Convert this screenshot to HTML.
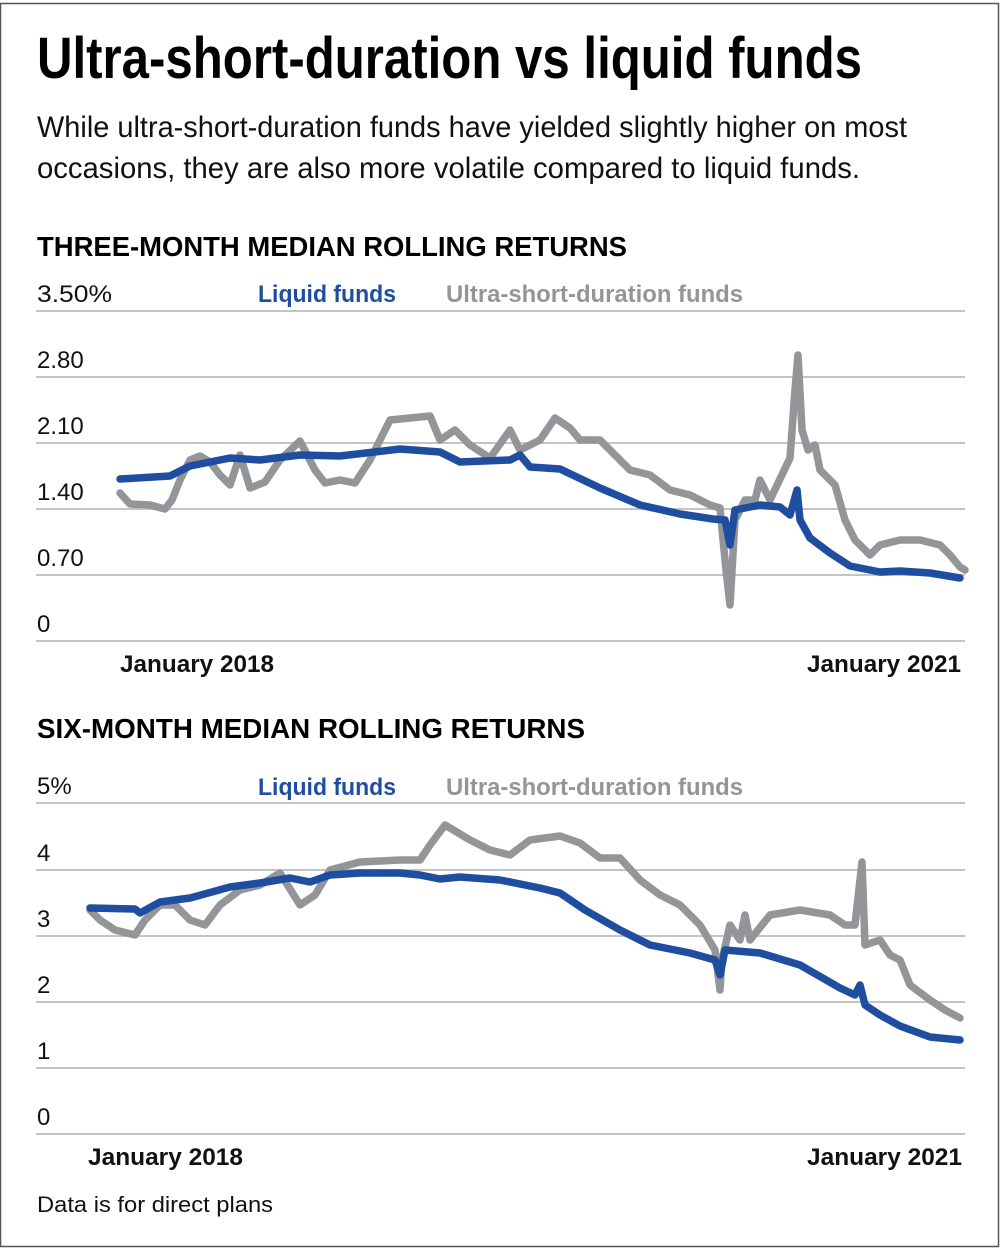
<!DOCTYPE html>
<html><head><meta charset="utf-8"><style>
html,body{margin:0;padding:0;background:#fff;}
svg{display:block;}
text{font-family:"Liberation Sans",Arial,sans-serif;}
</style></head><body>
<svg width="1000" height="1250" viewBox="0 0 1000 1250" xmlns="http://www.w3.org/2000/svg">
<rect x="0.5" y="3.5" width="998" height="1243" fill="#fff" stroke="#555" stroke-width="1.5"/>
<text x="37" y="78" font-size="58" font-weight="bold" textLength="825" lengthAdjust="spacingAndGlyphs">Ultra-short-duration vs liquid funds</text>
<text x="37" y="137" font-size="30" textLength="870" lengthAdjust="spacingAndGlyphs" fill="#111">While ultra-short-duration funds have yielded slightly higher on most</text>
<text x="37" y="178" font-size="30" textLength="823" lengthAdjust="spacingAndGlyphs" fill="#111">occasions,  they are also more volatile compared to liquid funds.</text>
<text x="37" y="256" font-size="28" font-weight="bold" textLength="590" lengthAdjust="spacingAndGlyphs">THREE-MONTH MEDIAN ROLLING RETURNS</text>
<g stroke="#c4c4c4" stroke-width="2">
<line x1="36" y1="311" x2="965" y2="311"/><line x1="36" y1="377" x2="965" y2="377"/><line x1="36" y1="443" x2="965" y2="443"/><line x1="36" y1="509" x2="965" y2="509"/><line x1="36" y1="575" x2="965" y2="575"/><line x1="36" y1="641" x2="965" y2="641"/>
<line x1="36" y1="803" x2="965" y2="803"/><line x1="36" y1="870" x2="965" y2="870"/><line x1="36" y1="936" x2="965" y2="936"/><line x1="36" y1="1002" x2="965" y2="1002"/><line x1="36" y1="1068" x2="965" y2="1068"/><line x1="36" y1="1134" x2="965" y2="1134"/>
</g>
<g font-size="24" fill="#111">
<text x="37" y="302" textLength="75" lengthAdjust="spacingAndGlyphs">3.50%</text>
<text x="37" y="368">2.80</text><text x="37" y="434">2.10</text><text x="37" y="500">1.40</text><text x="37" y="566">0.70</text><text x="37" y="632">0</text>
<text x="37" y="794">5%</text><text x="37" y="861">4</text><text x="37" y="927">3</text><text x="37" y="993">2</text><text x="37" y="1059">1</text><text x="37" y="1125">0</text>
</g>
<g font-size="24" font-weight="bold">
<text x="258" y="302" fill="#1f4ea1" textLength="138" lengthAdjust="spacingAndGlyphs">Liquid funds</text>
<text x="446" y="302" fill="#939598" textLength="297" lengthAdjust="spacingAndGlyphs">Ultra-short-duration funds</text>
<text x="258" y="795" fill="#1f4ea1" textLength="138" lengthAdjust="spacingAndGlyphs">Liquid funds</text>
<text x="446" y="795" fill="#939598" textLength="297" lengthAdjust="spacingAndGlyphs">Ultra-short-duration funds</text>
<text x="120" y="672" fill="#111" textLength="154" lengthAdjust="spacingAndGlyphs">January 2018</text>
<text x="807" y="672" fill="#111" textLength="154" lengthAdjust="spacingAndGlyphs">January 2021</text>
<text x="88" y="1165" fill="#111" textLength="155" lengthAdjust="spacingAndGlyphs">January 2018</text>
<text x="807" y="1165" fill="#111" textLength="155" lengthAdjust="spacingAndGlyphs">January 2021</text>
</g>
<text x="37" y="738" font-size="28" font-weight="bold" textLength="548" lengthAdjust="spacingAndGlyphs">SIX-MONTH MEDIAN ROLLING RETURNS</text>
<text x="37" y="1212" font-size="22" fill="#111" textLength="236" lengthAdjust="spacingAndGlyphs">Data is for direct plans</text>
<g fill="none" stroke-width="7.5" stroke-linejoin="round" stroke-linecap="round">
<polyline stroke="#939598" points="120,493 130,504 150,505 165,509 172,500 180,480 190,460 200,456 210,462 220,475 230,485 240,455 250,488 265,482 280,460 300,441 315,470 325,483 340,480 355,483 370,460 390,420 410,418 430,416 440,440 455,430 470,445 490,458 510,430 520,450 540,440 555,418 570,428 580,440 600,440 615,455 630,470 650,475 670,490 690,495 710,505 720,508 726,570 730,605 735,520 745,500 755,500 760,480 770,500 790,458 795,390 798,355 802,430 808,450 815,445 820,470 835,485 845,520 855,540 870,555 880,545 900,540 920,540 940,545 950,555 960,567 965,570"/>
<polyline stroke="#1f4ea1" points="120,479 170,476 190,466 230,458 260,460 300,455 340,456 400,449 440,452 460,462 510,460 520,455 530,467 560,469 600,488 640,505 680,514 713,519 725,520 730,545 735,510 760,505 780,507 790,515 797,490 800,520 810,538 830,553 850,566 870,570 880,572 900,571 930,573 960,578"/>
<polyline stroke="#939598" points="90,910 100,920 115,930 135,935 145,920 160,905 175,905 190,920 205,925 220,905 240,890 260,885 280,873 300,905 315,895 330,870 360,862 400,860 420,860 430,845 445,825 470,840 490,850 510,855 530,840 560,836 580,843 600,858 620,858 640,880 660,895 680,905 700,925 715,950 720,990 722,960 730,925 740,940 745,915 750,940 770,915 800,910 830,915 845,925 855,925 860,880 862,862 865,945 880,940 890,955 900,960 910,985 930,1000 945,1010 960,1018"/>
<polyline stroke="#1f4ea1" points="90,908 135,909 140,913 160,902 190,898 230,887 260,883 290,878 310,882 330,875 360,873 400,873 420,875 440,879 460,877 500,880 540,888 560,893 585,910 620,930 650,945 690,953 715,960 720,975 725,950 760,953 800,965 840,988 855,995 860,985 865,1005 880,1015 900,1026 930,1037 960,1040"/>
</g>
</svg>
</body></html>
